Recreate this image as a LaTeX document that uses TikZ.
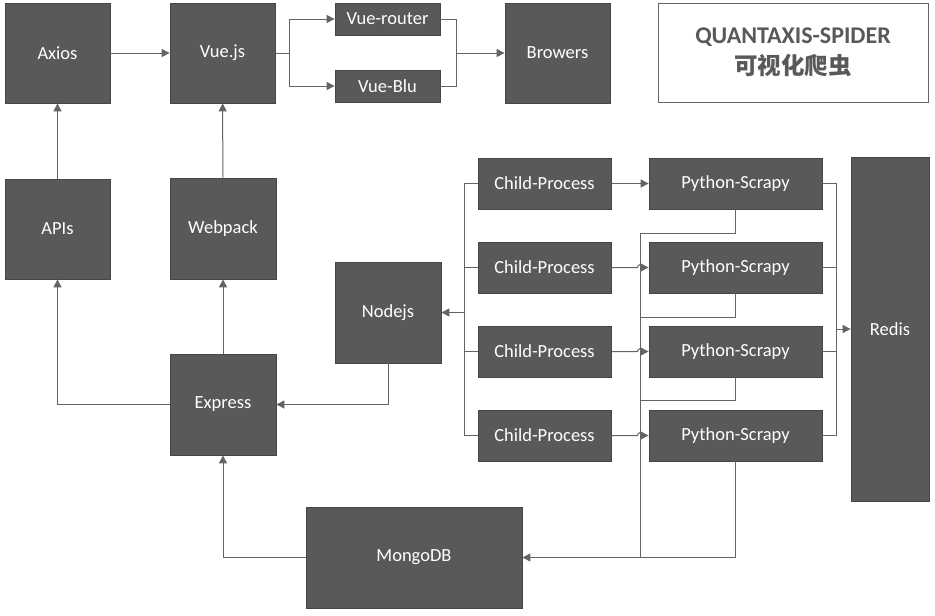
\documentclass[tikz,border=0pt]{standalone}
\usepackage{fontspec}
\setmainfont{Carlito}
\newfontfamily\cjk{Noto Sans CJK SC}
\usetikzlibrary{arrows.meta}
\definecolor{boxfill}{RGB}{89,89,89}
\definecolor{boxline}{RGB}{70,70,70}
\definecolor{conn}{RGB}{100,100,100}
\definecolor{titletext}{RGB}{89,89,89}
\tikzset{
  blk/.style={draw=boxline, line width=0.8pt, fill=boxfill, text=white, font=\fontsize{18.5}{22}\selectfont, inner sep=0pt},
  conn/.style={draw=conn, line width=1pt},
  arr/.style={conn, -{Triangle[length=8pt,width=8pt]}},
}
\begin{document}
\begin{tikzpicture}[x=1pt,y=-1pt]
\useasboundingbox (0,0) rectangle (935,616);
\fill[white] (0,0) rectangle (935,616);
% top row
\node[blk, minimum width=105pt, minimum height=100pt] (axios) at (57.5,53) {Axios};
\node[blk, minimum width=105pt, minimum height=100pt] (vue) at (222.5,53) {Vue.js};
\node[blk, minimum width=105pt, minimum height=32pt] (router) at (387.5,19) {Vue-router};
\node[blk, minimum width=105pt, minimum height=32pt] (blu) at (387.5,86) {Vue-Blu};
\node[blk, minimum width=105pt, minimum height=100pt] (browers) at (557.5,53) {Browers};
\node[draw=conn, line width=0.9pt, fill=white, minimum width=270pt, minimum height=99pt, align=center, text=titletext, font=\bfseries\fontsize{24}{31}\selectfont] (title) at (793,52.5) {QUANTAXIS-SPIDER\\{\cjk\bfseries\fontsize{23.5}{31}\selectfont 可视化爬虫}};
% middle
\node[blk, minimum width=105pt, minimum height=100pt] (apis) at (57.5,229) {APIs};
\node[blk, minimum width=106pt, minimum height=101pt] (webpack) at (223,228.5) {Webpack};
\node[blk, minimum width=106pt, minimum height=101pt] (nodejs) at (388,312.5) {Nodejs};
\node[blk, minimum width=106pt, minimum height=101pt] (express) at (223,404.5) {Express};
\node[blk, minimum width=216pt, minimum height=101pt] (mongo) at (414,557.5) {MongoDB};
% child processes and scrapers
\foreach \i/\y in {1/183.5,2/267.5,3/351.5,4/435.5}{
  \node[blk, minimum width=133pt, minimum height=51pt] (cp\i) at (544.5,\y) {Child-Process};
  \node[blk, minimum width=173pt, minimum height=51pt] (ps\i) at (735.5,\y) {Python-Scrapy};
}
\node[blk, minimum width=78pt, minimum height=344pt] (redis) at (890,329) {Redis};
% coordinates
\coordinate (vbus) at (289,53);
\coordinate (bbus) at (456,53);
\coordinate (cbus) at (464,312.5);
\coordinate (rbus) at (836,329);
\coordinate (mbus) at (640,557.5);
\coordinate (j1) at (640,233);
\coordinate (j2) at (640,317);
\coordinate (j3) at (640,400);
% top connectors
\draw[arr] (axios) -- (vue);
\draw[conn] (vue.east) -- (vbus);
\draw[arr] (vbus) |- (router.west);
\draw[arr] (vbus) |- (blu.west);
\draw[conn] (router.east) -| (bbus);
\draw[conn] (blu.east) -| (bbus);
\draw[arr] (bbus) -- (browers.west);
\draw[arr] (apis) -- (axios);
\draw[arr] (webpack) -- (vue);
% middle connectors
\draw[arr] (express.north) -- (webpack.south);
\draw[arr] (express.west) -| (apis.south);
\draw[arr] (nodejs.south) |- (express.east);
\draw[arr] (mongo.west) -| (express.south);
% child process bus
\foreach \i in {1,...,4}{
  \draw[conn] (cp\i.west) -| (cbus);
}
\draw[arr] (cbus) -- (nodejs.east);
% child -> scrapy
\draw[arr] (cp1.east) -- (ps1.west);
\foreach \i in {2,3,4}{
  \draw[arr] (cp\i.east) -- ++(26,0) arc[start angle=180,end angle=360,radius=3] -- (ps\i.west);
}
% scrapy -> redis
\foreach \i in {1,...,4}{
  \draw[conn] (ps\i.east) -| (rbus);
}
\draw[arr] (rbus) -- (redis.west);
% scrapy -> mongo
\draw[conn] (ps1.south) |- (j1);
\draw[conn] (ps2.south) |- (j2);
\draw[conn] (ps3.south) |- (j3);
\draw[conn] (ps4.south) |- (mbus);
\draw[conn] (j1) -- (mbus);
\draw[arr] (mbus) -- (mongo.east);
\end{tikzpicture}
\end{document}
